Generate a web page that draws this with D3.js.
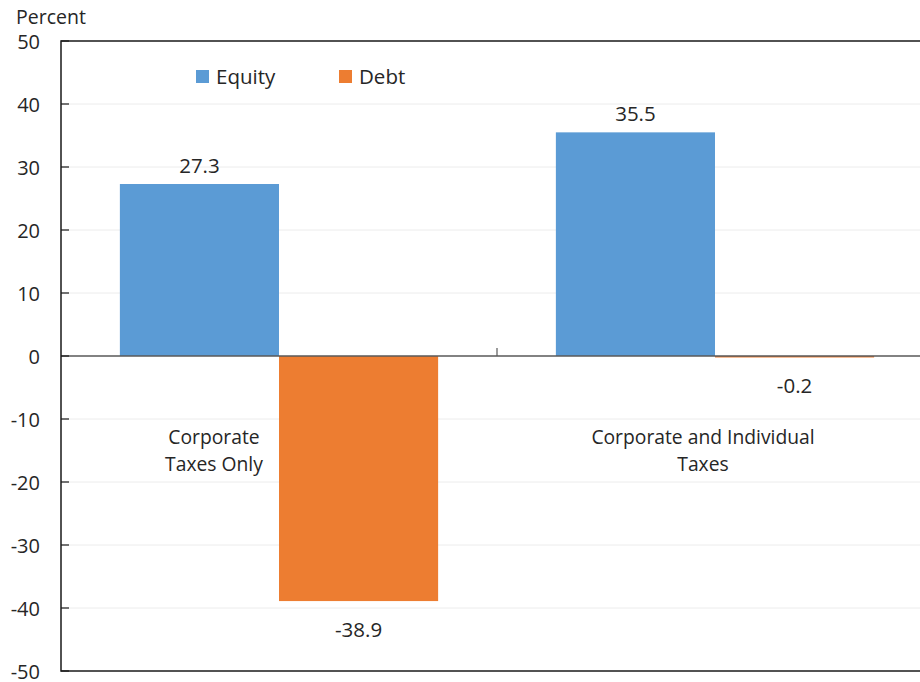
<!DOCTYPE html>
<html>
<head>
<meta charset="utf-8">
<script src="https://cdn.jsdelivr.net/npm/d3@7"></script>
<style>
  html, body { margin: 0; padding: 0; background: #fff; }
  svg { display: block; font-family: "Open Sans", "Noto Sans", sans-serif; }
</style>
</head>
<body>
<div id="chart"></div>
<script>
const categories = ["Corporate Taxes Only", "Corporate and Individual Taxes"];
const categoryLines = [["Corporate", "Taxes Only"], ["Corporate and Individual", "Taxes"]];
const seriesNames = ["Equity", "Debt"];
const equityValues = [27.3, 35.5];
const debtValues = [-38.9, -0.2];
const yTicks = [50, 40, 30, 20, 10, 0, -10, -20, -30, -40, -50];
const colors = ["#5b9bd5", "#ed7d31"];

(function () {
const W = 920, H = 682;
const svg = d3.select("#chart").append("svg").attr("width", W).attr("height", H);

const pL = 61, pT = 41, pB = 671, pR = 933;
const y = d3.scaleLinear().domain([-50, 50]).range([pB, pT]);
const x0 = d3.scaleBand().domain(categories).range([pL, pR]).paddingInner(0).paddingOuter(0);
const x1 = d3.scaleBand().domain(seriesNames).range([0, x0.bandwidth()]).paddingOuter(0.37).paddingInner(0);

// gridlines
svg.append("g").selectAll("line").data(yTicks.filter(d => d !== 0 && d !== 50 && d !== -50)).join("line")
  .attr("x1", pL).attr("x2", pR).attr("y1", d => y(d)).attr("y2", d => y(d))
  .attr("stroke", "#ececec").attr("stroke-width", 1);

// bars
const data = categories.map((c, i) => ({cat: c, vals: [equityValues[i], debtValues[i]]}));
const groups = svg.append("g").selectAll("g").data(data).join("g")
  .attr("transform", d => `translate(${x0(d.cat)},0)`);
groups.selectAll("rect").data(d => d.vals.map((v, j) => ({v, s: seriesNames[j], j}))).join("rect")
  .attr("x", d => x1(d.s)).attr("width", x1.bandwidth())
  .attr("y", d => y(Math.max(0, d.v))).attr("height", d => Math.max(1.5, Math.abs(y(d.v) - y(0))))
  .attr("fill", d => colors[d.j]);

// value labels
groups.selectAll("text.val").data(d => d.vals.map((v, j) => ({v, s: seriesNames[j]}))).join("text")
  .attr("class", "val")
  .attr("x", d => x1(d.s) + x1.bandwidth() / 2)
  .attr("y", d => d.v >= 0 ? y(d.v) - 11 : y(d.v) + 36)
  .attr("text-anchor", "middle").attr("font-size", 20.5).attr("fill", "#262626")
  .text(d => d.v.toFixed(1));

// zero line
svg.append("line").attr("x1", pL).attr("x2", pR).attr("y1", y(0)).attr("y2", y(0))
  .attr("stroke", "#595959").attr("stroke-width", 1.5);
// category divider tick on zero line
svg.append("line").attr("x1", x0(categories[1])).attr("x2", x0(categories[1]))
  .attr("y1", y(0) - 8).attr("y2", y(0)).attr("stroke", "#595959").attr("stroke-width", 1.2);

// frame
svg.append("rect").attr("x", pL).attr("y", pT).attr("width", pR - pL).attr("height", pB - pT)
  .attr("fill", "none").attr("stroke", "#1a1a1a").attr("stroke-width", 1.5);

// y axis
const yAxis = d3.axisLeft(y).tickValues(yTicks).tickSize(0).tickPadding(0).tickFormat(d => String(d));
const ag = svg.append("g").attr("transform", `translate(${pL},0)`).call(yAxis);
ag.select(".domain").remove();
ag.selectAll("text").attr("x", -21).attr("dy", "0.36em").attr("font-size", 20)
  .attr("fill", "#262626").attr("font-family", "Open Sans, Noto Sans, sans-serif");
// inner tick marks
svg.append("g").selectAll("line").data(yTicks).join("line")
  .attr("x1", pL).attr("x2", pL + 8).attr("y1", d => y(d)).attr("y2", d => y(d))
  .attr("stroke", "#1a1a1a").attr("stroke-width", 1.2);

// axis title
svg.append("text").attr("x", 16).attr("y", 24).attr("font-size", 19.5).attr("fill", "#262626").text("Percent");

// category labels
const catPos = [214, 703];
categoryLines.forEach((lines, i) => {
  lines.forEach((ln, k) => {
    svg.append("text").attr("x", catPos[i]).attr("y", y(-10) + 25 + k * 27)
      .attr("text-anchor", "middle").attr("font-size", 19.3).attr("fill", "#262626").text(ln);
  });
});

// legend
const legendX = [196, 339];
seriesNames.forEach((s, i) => {
  svg.append("rect").attr("x", legendX[i]).attr("y", 70).attr("width", 13).attr("height", 13).attr("fill", colors[i]);
  svg.append("text").attr("x", legendX[i] + 20).attr("y", 84).attr("font-size", 20.5).attr("fill", "#262626").text(s);
});
})();
</script>
</body>
</html>
